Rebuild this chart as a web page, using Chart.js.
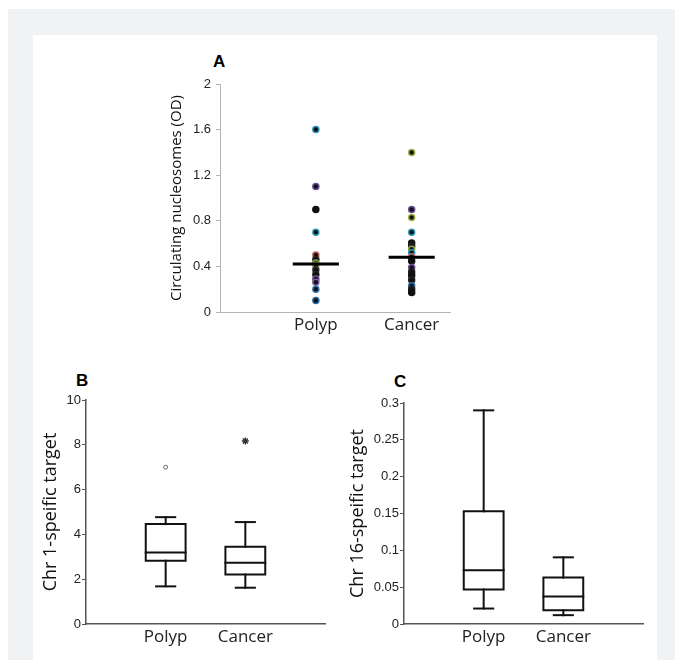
<!DOCTYPE html>
<html><head><meta charset="utf-8">
<script src="https://cdn.jsdelivr.net/npm/chart.js@4"></script>
<style>
html,body{margin:0;padding:0;background:#fff;width:675px;height:660px;overflow:hidden;position:relative;font-family:"Open Sans",sans-serif}
#outer{position:absolute;left:8px;top:9px;width:667px;height:651px;background:#f1f2f4}
#panel{position:absolute;left:33px;top:35px;width:624px;height:625px;background:#fff}
canvas{position:absolute}
.lbl{position:absolute;font-family:"Liberation Sans",Arial,sans-serif;font-weight:bold;color:#000;line-height:1;font-size:17px}
</style></head><body>
<div id="outer"></div><div id="panel"></div>
<div class="lbl" style="left:213px;top:53px">A</div>
<div class="lbl" style="left:76px;top:372px">B</div>
<div class="lbl" style="left:394px;top:373px">C</div>
<canvas id="cA" width="310" height="272" style="left:150px;top:70px;width:310px;height:272px"></canvas>
<canvas id="cB" width="301" height="270" style="left:34px;top:385px;width:301px;height:270px"></canvas>
<canvas id="cC" width="313" height="267" style="left:340px;top:388px;width:313px;height:267px"></canvas>
<script>
// ---------- data ----------
const categories = ['Polyp', 'Cancer'];

// Panel A: circulating nucleosomes (OD)
const polypOD = [1.60, 1.10, 0.90, 0.70, 0.50, 0.46, 0.43, 0.41, 0.37, 0.33, 0.29, 0.26, 0.20, 0.10];
const polypDotColors = ['#2c8fb5','#6b4f96','#111111','#2c9ab8','#c0605a','#222222','#7a9a48','#8aa848','#333333','#222222','#6b4f96','#7a5aa0','#3070b0','#2a6aa8'];
const cancerOD = [1.40, 0.90, 0.83, 0.70, 0.605, 0.576, 0.55, 0.52, 0.485, 0.447, 0.39, 0.35, 0.32, 0.28, 0.23, 0.20, 0.17];
const cancerDotColors = ['#9ab040','#6b4f96','#9ab040','#2c9ab8','#111111','#222222','#8aa848','#2c9ab8','#c07080','#111111','#6b4f96','#222222','#111111','#222222','#3070b0','#222222','#111111'];
const medianOD = [0.42, 0.48];
const ticksOD = [0, 0.4, 0.8, 1.2, 1.6, 2];

// Panel B: Chr 1-specific target
const chr1Min = [1.68, 1.62];
const chr1Q1 = [2.82, 2.21];
const chr1Median = [3.19, 2.73];
const chr1Q3 = [4.46, 3.45];
const chr1Max = [4.77, 4.55];
const chr1Outliers = [[7.0], [8.17]];
const ticksChr1 = [0, 2, 4, 6, 8, 10];

// Panel C: Chr 16-specific target
const chr16Min = [0.021, 0.012];
const chr16Q1 = [0.047, 0.0185];
const chr16Median = [0.073, 0.0375];
const chr16Q3 = [0.153, 0.063];
const chr16Max = [0.29, 0.0905];
const ticksChr16 = [0, 0.05, 0.1, 0.15, 0.2, 0.25, 0.3];

// ---------- styling constants ----------
const BOX_HALF = 0.25, CAP_HALF = 0.12, MED_HALF = 0.225;
const catFont = {family: '"Open Sans", sans-serif', size: 17};
const tickFont = {family: '"Liberation Sans", Arial, sans-serif', size: 13};
const fmt = v => String(+Number(v).toFixed(3));

function segDS(pts, color, width) {
  return {type: 'scatter', showLine: true, data: pts, borderColor: color, borderWidth: width,
          pointRadius: 0, fill: false, tension: 0, borderCapStyle: 'square', borderJoinStyle: 'miter'};
}

function boxDatasets(mins, q1s, meds, q3s, maxs) {
  const ds = [];
  categories.forEach((c, i) => {
    const x = i + 1, col = '#111', w = 2;
    ds.push(segDS([{x: x - BOX_HALF, y: q1s[i]}, {x: x + BOX_HALF, y: q1s[i]}, {x: x + BOX_HALF, y: q3s[i]}, {x: x - BOX_HALF, y: q3s[i]}, {x: x - BOX_HALF, y: q1s[i]}], col, w));
    ds.push(segDS([{x: x - BOX_HALF, y: meds[i]}, {x: x + BOX_HALF, y: meds[i]}], col, w));
    ds.push(segDS([{x: x, y: q3s[i]}, {x: x, y: maxs[i]}], col, w));
    ds.push(segDS([{x: x, y: q1s[i]}, {x: x, y: mins[i]}], col, w));
    ds.push(segDS([{x: x - CAP_HALF, y: maxs[i]}, {x: x + CAP_HALF, y: maxs[i]}], col, w));
    ds.push(segDS([{x: x - CAP_HALF, y: mins[i]}, {x: x + CAP_HALF, y: mins[i]}], col, w));
  });
  return ds;
}

function xAxis(max, height, axisColor, axisWidth) {
  return {
    type: 'linear', min: 0, max: max,
    afterBuildTicks: s => { s.ticks = categories.map((c, i) => ({value: i + 1})); },
    afterFit: s => { s.height = height; },
    ticks: {callback: v => categories[v - 1] || '', font: catFont, color: '#222', padding: 3, autoSkip: false, maxRotation: 0},
    grid: {display: false, drawTicks: false},
    border: {display: true, color: axisColor, width: axisWidth}
  };
}

function yAxis(ticksArr, width, title, titleSize, titlePad, axisColor, axisWidth, labPad) {
  return {
    type: 'linear', min: ticksArr[0], max: ticksArr[ticksArr.length - 1],
    afterBuildTicks: s => { s.ticks = ticksArr.map(v => ({value: v})); },
    afterFit: s => { s.width = width; },
    ticks: {callback: v => fmt(v), font: tickFont, color: '#222', padding: labPad},
    grid: {display: true, drawOnChartArea: false, drawTicks: true, tickLength: 4, color: axisColor, lineWidth: 1},
    border: {display: true, color: axisColor, width: axisWidth},
    title: {display: true, text: title, font: {family: '"Open Sans", sans-serif', size: titleSize}, color: '#111', padding: {top: titlePad, bottom: 0}}
  };
}

const common = {
  responsive: false, animation: false, events: [],
  plugins: {legend: {display: false}, tooltip: {enabled: false}}
};

// ---------- Panel A ----------
new Chart(document.getElementById('cA'), {
  type: 'scatter',
  data: {datasets: [
    ...categories.map((c, i) => segDS([{x: i + 1 - MED_HALF, y: medianOD[i]}, {x: i + 1 + MED_HALF, y: medianOD[i]}], '#000', 3)),
    {data: polypOD.map(v => ({x: 1, y: v})), pointRadius: 3, pointBorderWidth: 1.5,
     pointBackgroundColor: '#111', pointBorderColor: polypDotColors},
    {data: cancerOD.map(v => ({x: 2, y: v})), pointRadius: 3, pointBorderWidth: 1.5,
     pointBackgroundColor: '#111', pointBorderColor: cancerDotColors}
  ]},
  options: Object.assign({}, common, {
    layout: {padding: {top: 14, right: 10, bottom: 0, left: 0}},
    scales: {
      x: xAxis(2.4, 30, '#b4b4b4', 1),
      y: yAxis(ticksOD, 70, 'Circulating nucleosomes (OD)', 15, 18, '#b4b4b4', 1, 5)
    }
  })
});

// ---------- Panel B ----------
new Chart(document.getElementById('cB'), {
  type: 'scatter',
  data: {datasets: [
    ...boxDatasets(chr1Min, chr1Q1, chr1Median, chr1Q3, chr1Max),
    {data: chr1Outliers[0].map(v => ({x: 1, y: v})), pointStyle: 'circle', pointRadius: 2,
     pointBorderWidth: 1, pointBackgroundColor: '#fff', pointBorderColor: '#666'},
    {data: chr1Outliers[1].map(v => ({x: 2, y: v})), pointStyle: 'star', pointRadius: 3.5,
     pointBorderWidth: 1.5, pointBackgroundColor: '#333', pointBorderColor: '#333'}
  ]},
  options: Object.assign({}, common, {
    layout: {padding: {top: 15, right: 10, bottom: 0, left: 0}},
    scales: {
      x: xAxis(3, 31, '#555', 1.5),
      y: yAxis(ticksChr1, 52, 'Chr 1-speific target', 18, 6, '#555', 1.5, 1)
    }
  })
});

// ---------- Panel C ----------
new Chart(document.getElementById('cC'), {
  type: 'scatter',
  data: {datasets: boxDatasets(chr16Min, chr16Q1, chr16Median, chr16Q3, chr16Max)},
  options: Object.assign({}, common, {
    layout: {padding: {top: 15, right: 10, bottom: 0, left: 0}},
    scales: {
      x: xAxis(3, 31, '#555', 1.5),
      y: yAxis(ticksChr16, 64, 'Chr 16-speific target', 18, 7, '#555', 1.5, 1)
    }
  })
});
</script>
</body></html>
